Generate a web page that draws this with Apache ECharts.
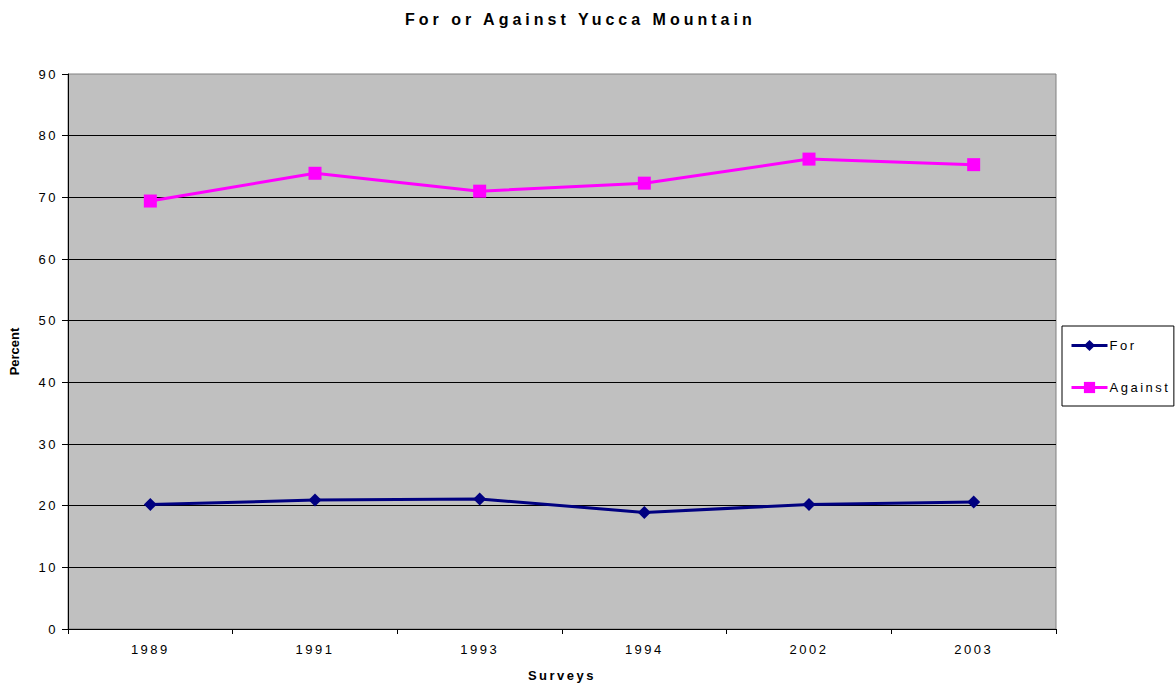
<!DOCTYPE html>
<html><head><meta charset="utf-8">
<script src="https://cdn.jsdelivr.net/npm/echarts@6/dist/echarts.min.js"></script>
<style>html,body{margin:0;padding:0;background:#fff}#c{width:1175px;height:683px}</style>
</head><body><div id="c"></div>
<script>
const categories = ['1989','1991','1993','1994','2002','2003'];
const forValues = [20.2, 20.9, 21.1, 18.9, 20.2, 20.6];
const againstValues = [69.4, 73.9, 71.0, 72.3, 76.2, 75.3];
const yTicks = {min: 0, max: 90, interval: 10};
const titleText = 'For or Against Yucca Mountain';

const chart = echarts.init(document.getElementById('c'), null, {renderer: 'svg'});
const font = 'Liberation Sans, Arial, sans-serif';
chart.setOption({
  backgroundColor: '#fff',
  animation: false,
  title: {
    text: titleText,
    left: 400, top: 6,
    textStyle: {fontFamily: font, fontSize: 16, fontWeight: 'bold', color: '#000'}
  },
  legend: {
    orient: 'vertical',
    left: 1062, top: 326,
    padding: [13, 21, 12, 8],
    itemGap: 29,
    itemWidth: 36, itemHeight: 14,
    backgroundColor: '#fff',
    borderColor: '#000', borderWidth: 1,
    lineStyle: {width: 3},
    textStyle: {fontFamily: font, fontSize: 13, color: '#000', padding: [0, 0, 0, -3]},
    data: ['For', 'Against']
  },
  grid: {
    left: 68, right: 119, top: 74, bottom: 54,
    outerBoundsMode: 'none',
    containLabel: false,
    show: true, backgroundColor: '#c0c0c0', borderColor: '#808080', borderWidth: 1
  },
  xAxis: {
    type: 'category', data: categories, boundaryGap: true,
    name: 'Surveys', nameLocation: 'middle', nameGap: 40,
    nameTextStyle: {fontFamily: font, fontSize: 13, fontWeight: 'bold', color: '#000'},
    axisLine: {lineStyle: {color: '#000', width: 1}},
    axisTick: {show: true, length: 5, inside: false, lineStyle: {color: '#000'}},
    axisLabel: {fontFamily: font, fontSize: 13, color: '#000', margin: 14}
  },
  yAxis: {
    type: 'value', min: yTicks.min, max: yTicks.max, interval: yTicks.interval,
    name: 'Percent', nameLocation: 'middle', nameGap: 47, nameRotate: 90,
    nameTextStyle: {fontFamily: font, fontSize: 13, fontWeight: 'bold', color: '#000'},
    axisLine: {show: true, lineStyle: {color: '#000', width: 1}},
    axisTick: {show: true, length: 6, lineStyle: {color: '#000'}},
    axisLabel: {fontFamily: font, fontSize: 13, color: '#000', margin: 10},
    splitLine: {show: true, showMaxLine: false, lineStyle: {color: '#000', width: 1}}
  },
  series: [
    {
      name: 'For', type: 'line', data: forValues,
      symbol: 'diamond', symbolSize: 13,
      lineStyle: {color: '#000080', width: 3},
      itemStyle: {color: '#000080'}
    },
    {
      name: 'Against', type: 'line', data: againstValues,
      symbol: 'rect', symbolSize: 13,
      lineStyle: {color: '#ff00ff', width: 3},
      itemStyle: {color: '#ff00ff'}
    }
  ]
});

function spaceText() {
  document.querySelectorAll('#c text').forEach(function (t) {
    const s = (t.getAttribute('style') || '') + ' ' + (t.getAttribute('font-size') || '');
    const txt = t.textContent;
    let ls = null;
    if (txt === titleText) ls = '4px';
    else if (txt === 'Percent') ls = '0px';
    else if (s.indexOf('13') >= 0) ls = '2.5px';
    if (ls !== null) t.style.letterSpacing = ls;
  });
}
chart.on('finished', spaceText);
spaceText();
setTimeout(spaceText, 50);
</script>
</body></html>
